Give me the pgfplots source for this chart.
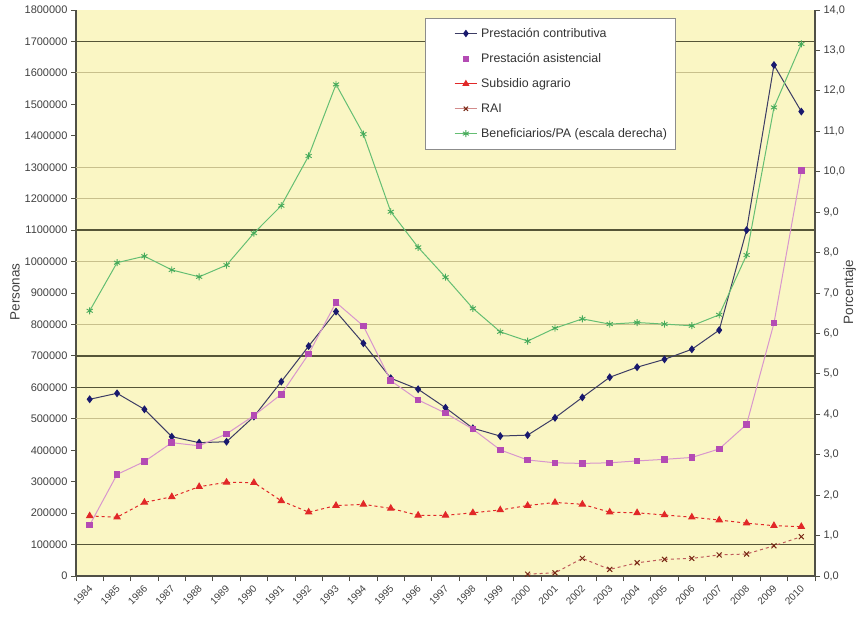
\documentclass[border=0pt]{standalone}
\usepackage{fontspec}
\setmainfont{Liberation Sans}
\usepackage{pgfplots}
\pgfplotsset{compat=1.18}
\definecolor{plotbg}{RGB}{250,246,196}
\definecolor{gridd}{RGB}{85,85,55}
\definecolor{gridl}{RGB}{200,192,140}
\definecolor{axisc}{RGB}{80,80,70}
\definecolor{contl}{RGB}{60,60,100}
\definecolor{contm}{RGB}{25,25,110}
\definecolor{asisl}{RGB}{216,150,205}
\definecolor{asism}{RGB}{180,75,180}
\definecolor{subs}{RGB}{225,40,40}
\definecolor{rail}{RGB}{190,90,90}
\definecolor{raim}{RGB}{120,40,20}
\definecolor{benl}{RGB}{100,190,115}
\definecolor{benm}{RGB}{70,170,90}
\begin{document}
\begin{tikzpicture}
\begin{axis}[name=ax, scale only axis, width=739pt, height=566pt,
  xmin=1983.5, xmax=2010.5, ymin=0, ymax=1800000,
  axis x line*=bottom, axis y line*=left, axis line style={-, axisc, line width=1.1pt},
  axis background/.style={fill=plotbg},
  xtick={1984,...,2010}, major x tick style={draw=none},
  minor xtick={1983.5,1984.5,...,2010.5}, minor x tick style={axisc, line width=0.8pt},
  minor tick length=5pt,
  xticklabel style={rotate=45, anchor=north east, font=\fontsize{10}{11}\selectfont, text=black!75, yshift=2pt},
  x tick label style={/pgf/number format/1000 sep={}},
  ytick={0,100000,...,1800000}, scaled y ticks=false,
  yticklabel style={/pgf/number format/fixed, /pgf/number format/1000 sep={}, font=\fontsize{11}{12}\selectfont, text=black!75},
  /pgf/number format/assume math mode=true,
  tick align=outside, major tick length=5pt, tick style={axisc, line width=0.8pt},
  ylabel={Personas}, ylabel style={at={(axis description cs:-0.0825,0.502)}, anchor=center, font=\fontsize{13.5}{15}\selectfont, text=black!75},
  clip=false,
]
% gridlines
\draw[gridl, line width=1pt] (axis cs:1983.5,1600000) -- (axis cs:2010.5,1600000);
\draw[gridl, line width=1pt] (axis cs:1983.5,1300000) -- (axis cs:2010.5,1300000);
\draw[gridl, line width=1pt] (axis cs:1983.5,1200000) -- (axis cs:2010.5,1200000);
\draw[gridl, line width=1pt] (axis cs:1983.5,1000000) -- (axis cs:2010.5,1000000);
\draw[gridl, line width=1pt] (axis cs:1983.5,800000) -- (axis cs:2010.5,800000);
\draw[gridl, line width=1pt] (axis cs:1983.5,500000) -- (axis cs:2010.5,500000);
\draw[gridd, line width=1.3pt] (axis cs:1983.5,1700000) -- (axis cs:2010.5,1700000);
\draw[gridd, line width=1.3pt] (axis cs:1983.5,1100000) -- (axis cs:2010.5,1100000);
\draw[gridd, line width=1.3pt] (axis cs:1983.5,700000) -- (axis cs:2010.5,700000);
\draw[gridd, line width=1.3pt] (axis cs:1983.5,600000) -- (axis cs:2010.5,600000);
\draw[gridd, line width=1.3pt] (axis cs:1983.5,100000) -- (axis cs:2010.5,100000);
% Prestacion contributiva
\addplot[contl, line width=1pt, mark=diamond*, mark size=3.2pt, mark options={solid, draw=contm, fill=contm}] coordinates {
(1984,562000)(1985,581000)(1986,530000)(1987,443000)(1988,424000)(1989,427000)(1990,507000)
(1991,618000)(1992,731000)(1993,841000)(1994,740000)(1995,629000)(1996,594000)(1997,535000)
(1998,470000)(1999,445000)(2000,448000)(2001,503000)(2002,568000)(2003,632000)(2004,664000)
(2005,689000)(2006,721000)(2007,782000)(2008,1100000)(2009,1625000)(2010,1477000)};
% Prestacion asistencial
\addplot[asisl, line width=1pt, mark=square*, mark size=2.8pt, mark options={solid, draw=asism, fill=asism}] coordinates {
(1984,162000)(1985,323000)(1986,364000)(1987,424000)(1988,414000)(1989,452000)(1990,510000)
(1991,578000)(1992,706000)(1993,870000)(1994,795000)(1995,621000)(1996,560000)(1997,518000)
(1998,467000)(1999,401000)(2000,369000)(2001,360000)(2002,358000)(2003,360000)(2004,366000)
(2005,371000)(2006,377000)(2007,404000)(2008,482000)(2009,804000)(2010,1289000)};
% Subsidio agrario
\addplot[subs, line width=1pt, dashed, mark=triangle*, mark size=3.5pt, mark options={solid, draw=subs, fill=subs}] coordinates {
(1984,191000)(1985,187000)(1986,234000)(1987,252000)(1988,284000)(1989,298000)(1990,297000)
(1991,239000)(1992,203000)(1993,224000)(1994,228000)(1995,215000)(1996,193000)(1997,193000)
(1998,201000)(1999,210000)(2000,224000)(2001,234000)(2002,228000)(2003,203000)(2004,201000)
(2005,194000)(2006,187000)(2007,178000)(2008,168000)(2009,160000)(2010,157000)};
% RAI
\addplot[rail, line width=1pt, dashed, mark=x, mark size=3.5pt, mark options={solid, draw=raim, line width=1pt}] coordinates {
(2000,6000)(2001,10000)(2002,56000)(2003,21000)(2004,42000)(2005,53000)(2006,56000)
(2007,67000)(2008,70000)(2009,96000)(2010,125000)};
\end{axis}
\begin{axis}[scale only axis, width=739pt, height=566pt, at={(ax.south west)}, anchor=south west,
  xmin=1983.5, xmax=2010.5, ymin=0, ymax=14,
  axis x line=none, axis y line*=right, axis line style={-, axisc, line width=1.1pt},
  ytick={0,1,...,14},
  yticklabel style={/pgf/number format/fixed, /pgf/number format/fixed zerofill, /pgf/number format/precision=1, /pgf/number format/use comma, /pgf/number format/assume math mode=true, font=\fontsize{11}{12}\selectfont, text=black!75},
  tick align=outside, major tick length=5pt, tick style={axisc, line width=0.8pt},
  ylabel={Porcentaje}, ylabel style={at={(axis description cs:1.047,0.502)}, anchor=center, font=\fontsize{13.5}{15}\selectfont, text=black!75},
  legend image code/.code={\path (-0.8cm,0cm) (0.85cm,0cm);
    \draw[mark repeat=2, mark phase=2, #1] plot coordinates {(0cm,0cm) (0.4cm,0cm) (0.8cm,0cm)};},
  legend style={at={(0.4723,0.9859)}, anchor=north west, draw=black!45, fill=white, inner xsep=6pt, inner ysep=8pt,
    font=\fontsize{12.4}{13}\selectfont, text=black!80, row sep=10.6pt, cells={anchor=west}},
  legend cell align=left,
  clip=false,
]
\addlegendimage{contl, line width=1pt, mark=diamond*, mark size=3pt, mark options={draw=contm, fill=contm}}
\addlegendentry{Prestación contributiva}
\addlegendimage{draw opacity=0, mark=square*, mark size=2.5pt, mark options={draw opacity=1, draw=asism, fill=asism}}
\addlegendentry{Prestación asistencial}
\addlegendimage{subs, line width=1pt, mark=triangle*, mark size=3.2pt, mark options={draw=subs, fill=subs}}
\addlegendentry{Subsidio agrario}
\addlegendimage{rail!70, line width=1pt, mark=x, mark size=3pt, mark options={draw=raim}}
\addlegendentry{RAI}
\addplot[benl, line width=1pt, mark=asterisk, mark size=3.5pt, mark options={solid, draw=benm, line width=0.9pt}] coordinates {
(1984,6.56)(1985,7.75)(1986,7.91)(1987,7.57)(1988,7.40)(1989,7.69)(1990,8.48)
(1991,9.16)(1992,10.39)(1993,12.16)(1994,10.93)(1995,9.01)(1996,8.13)(1997,7.39)
(1998,6.62)(1999,6.04)(2000,5.81)(2001,6.13)(2002,6.36)(2003,6.23)(2004,6.27)
(2005,6.23)(2006,6.19)(2007,6.46)(2008,7.94)(2009,11.59)(2010,13.16)};
\addlegendentry{Beneficiarios/PA (escala derecha)}
\end{axis}
\pgfresetboundingbox
\path[use as bounding box] ([xshift=-76pt,yshift=-42pt]ax.south west) rectangle ([xshift=43pt,yshift=10pt]ax.north east);
\end{tikzpicture}
\end{document}
